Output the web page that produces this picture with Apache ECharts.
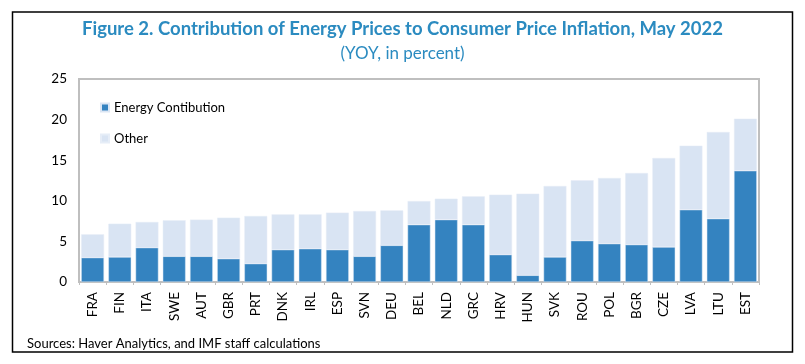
<!DOCTYPE html>
<html>
<head>
<meta charset="utf-8">
<script src="https://cdn.jsdelivr.net/npm/echarts@6/dist/echarts.min.js"></script>
<style>html,body{margin:0;padding:0;background:#fff}#c{width:805px;height:364px}</style>
</head>
<body>
<div id="c"></div>
<script>
const categories = ["FRA","FIN","ITA","SWE","AUT","GBR","PRT","DNK","IRL","ESP","SVN","DEU","BEL","NLD","GRC","HRV","HUN","SVK","ROU","POL","BGR","CZE","LVA","LTU","EST"];
const energy = [3.0,3.08,4.23,3.16,3.16,2.87,2.26,3.98,4.1,3.98,3.16,4.51,7.06,7.68,7.06,3.37,0.82,3.08,5.09,4.72,4.6,4.31,8.9,7.8,13.7];
const total  = [5.87,7.18,7.39,7.6,7.68,7.92,8.13,8.33,8.33,8.54,8.74,8.82,9.97,10.26,10.55,10.76,10.88,11.82,12.52,12.81,13.42,15.27,16.79,18.47,20.11];
const other = total.map((t,i)=>+(t-energy[i]).toFixed(2));
const titleText = "Figure 2. Contribution of Energy Prices to Consumer Price Inflation, May 2022";
const subtitleText = "(YOY, in percent)";
const sourceText = "Sources: Haver Analytics, and IMF staff calculations";

const chart = echarts.init(document.getElementById('c'), null, {renderer:'canvas'});
chart.setOption({
  animation:false,
  backgroundColor:'#fff',
  title:[
    {text:titleText,left:'center',top:15,textStyle:{fontFamily:'Lato',fontWeight:'bold',fontSize:18.5,color:'#2b8bc0'}},
    {text:subtitleText,left:'center',top:40,textStyle:{fontFamily:'Lato',fontWeight:'normal',fontSize:17,color:'#2b8bc0'}},
    {text:sourceText,left:22,top:332,textStyle:{fontFamily:'Lato',fontWeight:'normal',fontSize:13,color:'#000'}}
  ],
  graphic:[{type:'rect',shape:{x:12.5,y:12,width:780,height:340},style:{fill:'none',stroke:'#000',lineWidth:1.5},silent:true}],
  legend:{orient:'vertical',left:95,top:96,itemGap:18,itemWidth:8,itemHeight:8,icon:'rect',
    textStyle:{fontFamily:'Lato',fontSize:13,color:'#000'},data:['Energy Contibution','Other']},
  grid:{left:79,right:46,top:79,bottom:82,show:true,borderColor:'#bfbfbf',borderWidth:2,backgroundColor:'transparent'},
  xAxis:{type:'category',data:categories,
    axisLine:{lineStyle:{color:'#bfbfbf',width:2}},
    axisTick:{show:true,lineStyle:{color:'#bfbfbf'},length:3},
    axisLabel:{rotate:90,margin:10,fontFamily:'Lato',fontSize:13.5,color:'#000'}},
  yAxis:{type:'value',min:0,max:25,interval:5,
    axisLine:{show:true,lineStyle:{color:'#bfbfbf',width:2}},
    axisTick:{show:false},splitLine:{show:false},
    axisLabel:{margin:12,fontFamily:'Lato',fontSize:13.5,color:'#000'}},
  series:[
    {name:'Energy Contibution',type:'bar',stack:'a',data:energy,barCategoryGap:'16%',
      itemStyle:{color:'#3483c0',borderColor:'#dbe6f4',borderWidth:0.5}},
    {name:'Other',type:'bar',stack:'a',data:other,
      itemStyle:{color:'#d9e4f3',borderColor:'#e6edf7',borderWidth:0.5}}
  ]
});
</script>
</body>
</html>
